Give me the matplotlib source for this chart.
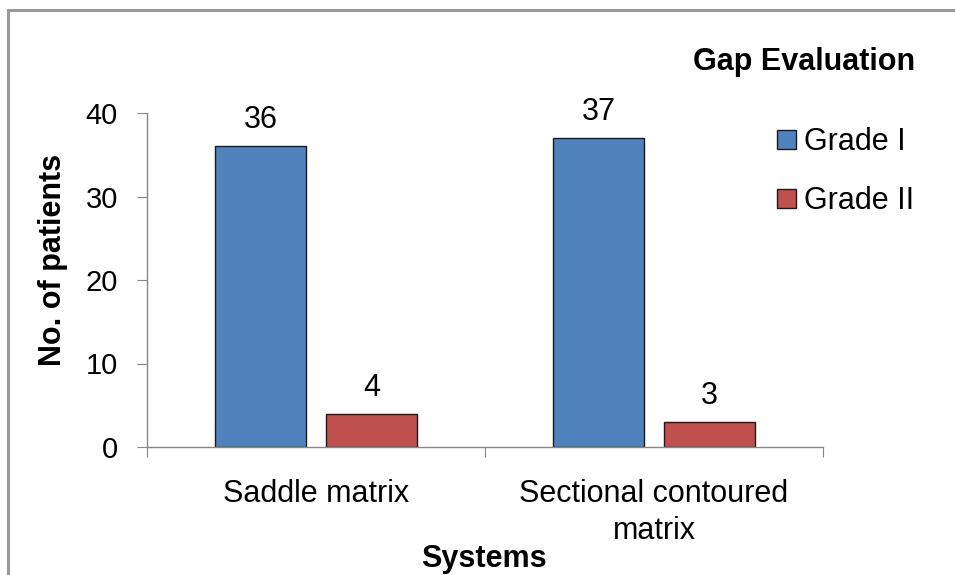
import numpy as np
import matplotlib
matplotlib.use('Agg')
import matplotlib.pyplot as plt
from matplotlib.lines import Line2D

plt.rcParams['font.family'] = ['Liberation Sans', 'DejaVu Sans']

# Data
systems = ['Saddle matrix', 'Sectional contoured\nmatrix']
grade_1 = [36, 37]
grade_2 = [4, 3]
series_names = ['Grade I', 'Grade II']
y_ticks = [0, 10, 20, 30, 40]

blue = '#4F81BD'
red = '#C0504D'
axis_gray = '#868686'
fs = 22

fig = plt.figure(figsize=(9.55, 5.75), dpi=100)
ax = fig.add_axes([147 / 955, 1 - 447 / 575, 676 / 955, 334 / 575])

# bar geometry in category units (category width = 1)
centers = np.arange(len(systems)) + 0.5
width = 0.268
gap = 0.059
pos1 = centers - gap / 2 - width / 2
pos2 = centers + gap / 2 + width / 2

b1 = ax.bar(pos1, grade_1, width, color=blue, edgecolor='#1a1a1a', linewidth=1.0, label=series_names[0])
b2 = ax.bar(pos2, grade_2, width, color=red, edgecolor='#1a1a1a', linewidth=1.0, label=series_names[1])

# value labels above bars
for bars, vals in [(b1, grade_1), (b2, grade_2)]:
    for rect, v in zip(bars, vals):
        ax.annotate(str(v), (rect.get_x() + rect.get_width() / 2, v),
                    xytext=(0, 13), textcoords='offset points',
                    ha='center', va='baseline', fontsize=fs)

ax.set_xlim(0, len(systems))
ax.set_ylim(0, 40)
ax.set_yticks(y_ticks)
ax.set_yticklabels([str(t) for t in y_ticks], fontsize=21)
ax.set_xticks(np.arange(len(systems) + 1))
ax.set_xticklabels([])
ax.set_xticks(centers, minor=True)
ax.set_xticklabels(systems, minor=True, fontsize=fs, linespacing=1.3)
ax.tick_params(axis='x', which='minor', length=0, pad=23)
ax.tick_params(axis='x', which='major', length=7, color=axis_gray, direction='out')
ax.tick_params(axis='y', length=7, color=axis_gray, direction='out', pad=14)

for s in ['top', 'right']:
    ax.spines[s].set_visible(False)
for s in ['left', 'bottom']:
    ax.spines[s].set_color(axis_gray)
    ax.spines[s].set_linewidth(1.0)

fig.text(53 / 955, 1 - 260 / 575, 'No. of patients', fontsize=fs, fontweight='bold',
         rotation=90, ha='center', va='center')
fig.text(484 / 955, 1 - 559 / 575, 'Systems', fontsize=fs, fontweight='bold',
         ha='center', va='center')
fig.text(804 / 955, 1 - 62 / 575, 'Gap Evaluation', fontsize=fs, fontweight='bold',
         ha='center', va='center')

fig.legend(handles=[b1, b2], labels=series_names, loc='upper left',
           bbox_to_anchor=(762 / 955, 1 - 112 / 575), frameon=False, borderpad=0,
           fontsize=fs, handlelength=0.62, handleheight=0.55, handletextpad=0.25,
           labelspacing=0.95)

# outer border of the chart (left and top edges visible)
fig.add_artist(Line2D([8 / 955, 8 / 955], [0, 1 - 10 / 575], transform=fig.transFigure,
                      color='#999999', linewidth=2.2))
fig.add_artist(Line2D([8 / 955, 1], [1 - 10 / 575, 1 - 10 / 575], transform=fig.transFigure,
                      color='#999999', linewidth=2.2))

fig.savefig('out.png', dpi=100)
